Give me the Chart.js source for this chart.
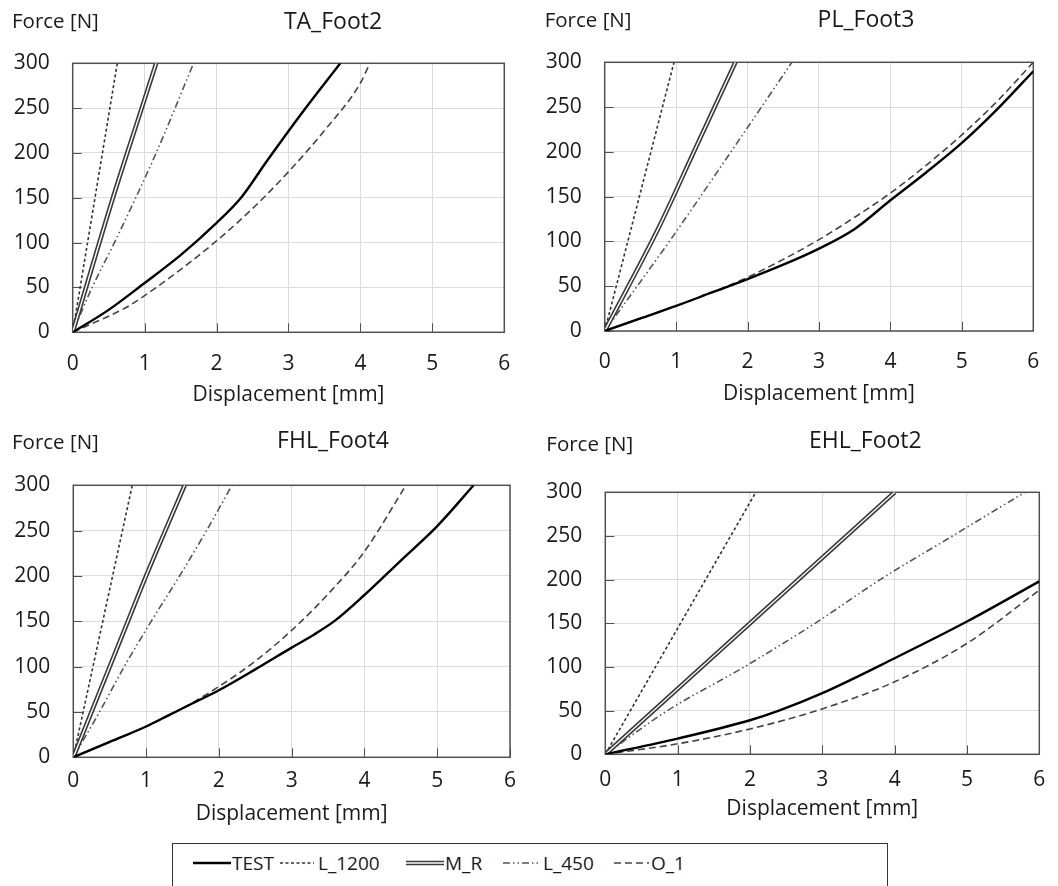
<!DOCTYPE html>
<html>
<head>
<meta charset="utf-8">
<script src="https://cdn.jsdelivr.net/npm/chart.js@4.4.1/dist/chart.umd.min.js"></script>
<style>
html,body{margin:0;padding:0;background:#fff;}
body{width:1058px;height:886px;position:relative;overflow:hidden;font-family:'Open Sans',sans-serif;color:#1a1a1a;}
canvas.panel{position:absolute;}
#legend{position:absolute;left:172px;top:843px;width:716px;height:50px;border:1.5px solid #333;box-sizing:border-box;background:#fff;}
.li{position:absolute;top:0;height:38px;display:flex;align-items:center;font-size:19px;white-space:pre;}
.li svg{display:block;}
</style>
</head>
<body>
<canvas class="panel" id="p1"></canvas>
<canvas class="panel" id="p2"></canvas>
<canvas class="panel" id="p3"></canvas>
<canvas class="panel" id="p4"></canvas>
<div id="legend"></div>
<script>
// ---------- DATA ----------
const seriesNames = ['TEST', 'L_1200', 'M_R', 'L_450', 'O_1'];
const panelTitles = ['TA_Foot2', 'PL_Foot3', 'FHL_Foot4', 'EHL_Foot2'];
const xTickValues = [0, 1, 2, 3, 4, 5, 6];
const yTickValues = [0, 50, 100, 150, 200, 250, 300];
const xAxisLabel = 'Displacement [mm]';
const yAxisLabel = 'Force [N]';

// TA_Foot2  ([displacement mm, force N])
const ta_TEST   = [[0,0],[0.5,25],[1,55],[1.5,86],[2,122],[2.34,150],[2.7,191],[3.21,247],[3.72,300]];
const ta_L1200  = [[0,0],[0.62,300]];
const ta_MR     = [[0,0],[0.56,150],[0.96,250],[1.16,300]];
const ta_L450   = [[0,0],[0.27,50],[0.58,100],[1.16,200],[1.68,300]];
const ta_O1     = [[0,0],[0.25,9],[0.5,18],[0.75,28],[1,41],[1.5,70],[2,102],[2.5,138],[3,179],[3.5,225],[4,278],[4.13,300]];

// PL_Foot3
const pl_TEST   = [[0,0],[0.5,14],[1,28],[1.5,43],[2,58],[2.5,74],[3,92],[3.5,114],[4,146],[4.5,177],[5,210],[5.5,248],[6,290]];
const pl_L1200  = [[0,0],[0.97,300]];
const pl_MR     = [[0,0],[0.76,116],[1.26,202],[1.83,300]];
const pl_L450   = [[0,0],[0.94,104],[1.75,198],[2.62,300]];
const pl_O1     = [[0,0],[1,28],[1.5,43],[2,60],[2.5,80],[3,102],[3.5,127],[4,154],[4.5,185],[5,219],[5.5,257],[6,300]];

// FHL_Foot4
const fhl_TEST  = [[0,0],[0.5,17],[1,34],[1.3,46],[1.6,58],[2,74],[2.5,97],[3,121],[3.3,135],[3.6,151],[4,179],[4.5,217],[5,255],[5.5,300]];
const fhl_L1200 = [[0,0],[0.81,300]];
const fhl_MR    = [[0,0],[0.75,150],[1,200],[1.53,300]];
const fhl_L450  = [[0,0],[0.36,50],[0.7,100],[1.07,150],[1.46,200],[1.83,250],[2.18,300]];
const fhl_O1    = [[0,0],[1,34],[1.5,54],[2,78],[2.5,106],[3,140],[3.5,180],[4,227],[4.57,300]];

// EHL_Foot2
const ehl_TEST  = [[0,0],[1,18],[2,39],[2.4,50],[3,70],[4,110],[5,152],[6,198]];
const ehl_L1200 = [[0,0],[2.08,300]];
const ehl_MR    = [[0,0],[4.0,300]];
const ehl_L450  = [[0,0],[0.86,50],[1.92,100],[2.9,150],[3.8,200],[4.8,250],[5.8,300]];
const ehl_O1    = [[0,0],[1,12],[2,29],[3,52],[4,83],[5,127],[6,188]];

const panelSeries = [
  [ta_TEST, ta_L1200, ta_MR, ta_L450, ta_O1],
  [pl_TEST, pl_L1200, pl_MR, pl_L450, pl_O1],
  [fhl_TEST, fhl_L1200, fhl_MR, fhl_L450, fhl_O1],
  [ehl_TEST, ehl_L1200, ehl_MR, ehl_L450, ehl_O1]
];

// ---------- LAYOUT / STYLE ----------
const CW = 529, CH = 420;
const layouts = [
  {cx:0,   cy:0,   L:72.7,  T:63.3,  R:509,    B:332.3, tickY:364,   titleAxisY:395,   fX:12,    fY:22,    tX:333,   tY:22.5},
  {cx:529, cy:0,   L:604.7, T:62.3,  R:1041,   B:331,   tickY:362.7, titleAxisY:393.3, fX:544.7, fY:20.7,  tX:866,   tY:20},
  {cx:0,   cy:420, L:73.3,  T:485.3, R:510,    B:757.3, tickY:781.7, titleAxisY:813.3, fX:12,    fY:443.3, tX:333,   tY:441.7},
  {cx:529, cy:420, L:605.3, T:492.3, R:1041.3, B:754.3, tickY:780,   titleAxisY:808.3, fX:546.3, fY:445,   tX:865.3, tY:441.7}
];
const styles = {
  TEST:   {color:'#000000', width:2.4, dash:[]},
  L_1200: {color:'#333333', width:1.6, dash:[3,2.5]},
  M_R:    {color:'#3a3a3a', width:4.6, dash:[]},
  L_450:  {color:'#555555', width:1.6, dash:[7,3,1.5,3,1.5,3]},
  O_1:    {color:'#444444', width:1.6, dash:[7,4]}
};
const FONT = "'Open Sans', 'DejaVu Sans', sans-serif";
const TXT = '#1a1a1a';

Chart.defaults.font.family = FONT;
Chart.defaults.color = TXT;

const framePlugin = {
  id: 'frame',
  beforeDatasetsDraw(chart, args, o) {
    const {ctx, chartArea: a} = chart;
    const xs = chart.scales.x, ys = chart.scales.y;
    ctx.save();
    ctx.strokeStyle = '#505050';
    ctx.lineWidth = 1;
    ctx.beginPath();
    xs.ticks.forEach(t => { const p = Math.round(xs.getPixelForValue(t.value)) + 0.5; ctx.moveTo(p, a.bottom); ctx.lineTo(p, a.bottom - 9); });
    ys.ticks.forEach(t => { const p = Math.round(ys.getPixelForValue(t.value)) + 0.5; ctx.moveTo(a.left, p); ctx.lineTo(a.left + 9, p); });
    ctx.stroke();
    ctx.lineWidth = 1.5;
    ctx.strokeRect(a.left, a.top, a.right - a.left, a.bottom - a.top);
    ctx.restore();
  },
  afterDraw(chart, args, o) {
    const ctx = chart.ctx;
    ctx.save();
    ctx.fillStyle = TXT;
    ctx.textBaseline = 'middle';
    ctx.font = "20.5px " + FONT;
    ctx.textAlign = 'left';
    ctx.fillText(o.yLabel, o.fX, o.fY);
    ctx.font = "23px " + FONT;
    ctx.textAlign = 'center';
    ctx.fillText(o.title, o.tX, o.tY);
    ctx.restore();
  }
};

function toXY(arr) { return arr.map(p => ({x: p[0], y: p[1]})); }

function buildDatasets(series) {
  const ds = [];
  seriesNames.forEach((name, i) => {
    const st = styles[name];
    const base = {
      label: name,
      data: toXY(series[i]),
      showLine: true,
      pointRadius: 0,
      pointHoverRadius: 0,
      fill: false,
      cubicInterpolationMode: 'monotone',
      borderColor: st.color,
      borderWidth: st.width,
      borderDash: st.dash,
      borderCapStyle: 'butt',
      order: name === 'TEST' ? 0 : 2
    };
    ds.push(base);
    if (name === 'M_R') {
      ds.push(Object.assign({}, base, {label: 'M_R inner', borderColor: '#ffffff', borderWidth: 1.4, order: 1}));
    }
  });
  return ds;
}

layouts.forEach((lay, k) => {
  const cv = document.getElementById('p' + (k + 1));
  cv.width = CW; cv.height = CH;
  cv.style.left = lay.cx + 'px'; cv.style.top = lay.cy + 'px';
  cv.style.width = CW + 'px'; cv.style.height = CH + 'px';
  const yW = lay.L - lay.cx;
  const xH = lay.cy + CH - lay.B;
  new Chart(cv, {
    type: 'scatter',
    data: {datasets: buildDatasets(panelSeries[k])},
    options: {
      responsive: false,
      animation: false,
      events: [],
      layout: {padding: {left: 0, top: lay.T - lay.cy, right: lay.cx + CW - lay.R, bottom: 0}},
      plugins: {
        legend: {display: false},
        tooltip: {enabled: false},
        frame: {yLabel: yAxisLabel, title: panelTitles[k],
                fX: lay.fX - lay.cx, fY: lay.fY - lay.cy, tX: lay.tX - lay.cx, tY: lay.tY - lay.cy}
      },
      scales: {
        x: {
          type: 'linear', min: 0, max: 6,
          afterFit: s => { s.height = xH; },
          afterBuildTicks: s => { s.ticks = xTickValues.map(v => ({value: v})); },
          ticks: {font: {size: 21}, color: TXT, padding: lay.tickY - lay.B - 13, maxRotation: 0},
          grid: {color: '#dcdcdc', lineWidth: 1, drawTicks: false},
          border: {display: false},
          title: {display: true, text: xAxisLabel, font: {size: 21}, color: TXT,
                  padding: {top: 0, bottom: lay.cy + CH - lay.titleAxisY - 13}}
        },
        y: {
          type: 'linear', min: 0, max: 300,
          afterFit: s => { s.width = yW; },
          afterBuildTicks: s => { s.ticks = yTickValues.map(v => ({value: v})); },
          ticks: {font: {size: 21}, color: TXT, padding: 23},
          grid: {color: '#dcdcdc', lineWidth: 1, drawTicks: false},
          border: {display: false}
        }
      }
    },
    plugins: [framePlugin]
  });
});

// ---------- LEGEND (HTML) ----------
const legendItems = [
  {name: 'TEST',   sx: 20,  sw: 38, tx: 59},
  {name: 'L_1200', sx: 107, sw: 34, tx: 145},
  {name: 'M_R',    sx: 233, sw: 38, tx: 272},
  {name: 'L_450',  sx: 330, sw: 36, tx: 370},
  {name: 'O_1',    sx: 441, sw: 35, tx: 478}
];
const lg = document.getElementById('legend');
legendItems.forEach(it => {
  const st = styles[it.name];
  const sv = document.createElement('div');
  sv.className = 'li';
  sv.style.left = it.sx + 'px';
  let lines = '';
  if (it.name === 'M_R') {
    lines = `<line x1="0" y1="6" x2="${it.sw}" y2="6" stroke="${st.color}" stroke-width="4.6"/>` +
            `<line x1="0" y1="6" x2="${it.sw}" y2="6" stroke="#fff" stroke-width="1.4"/>`;
  } else {
    lines = `<line x1="0" y1="6" x2="${it.sw}" y2="6" stroke="${st.color}" stroke-width="${st.width}" stroke-dasharray="${st.dash.length ? st.dash.join(' ') : 'none'}"/>`;
  }
  sv.innerHTML = `<svg width="${it.sw}" height="12">${lines}</svg>`;
  lg.appendChild(sv);
  const tx = document.createElement('div');
  tx.className = 'li';
  tx.style.left = it.tx + 'px';
  tx.textContent = it.name;
  lg.appendChild(tx);
});
</script>
</body>
</html>
